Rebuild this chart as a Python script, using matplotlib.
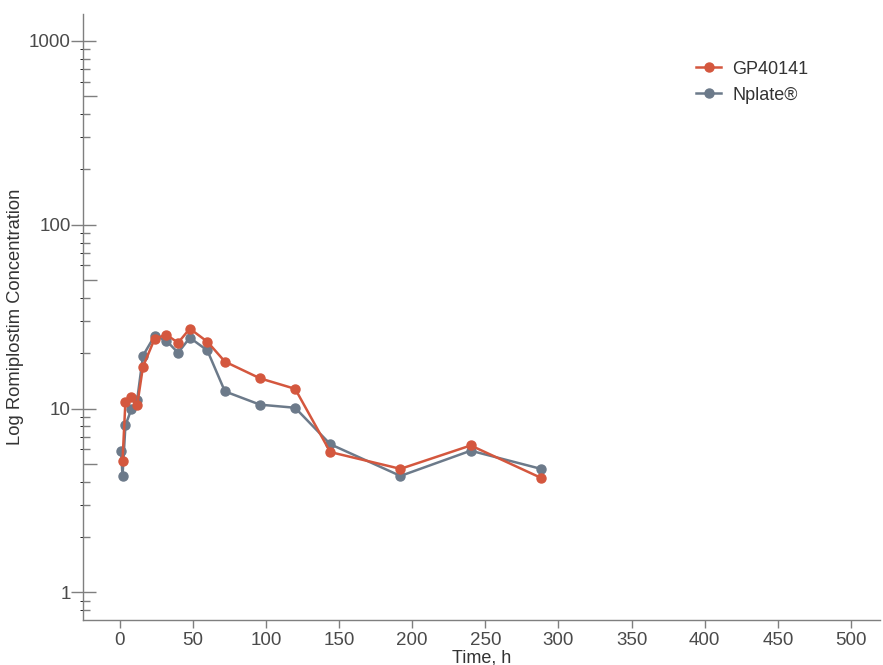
import numpy as np
import matplotlib
matplotlib.use("Agg")
import matplotlib.pyplot as plt
from matplotlib.ticker import LogLocator, NullFormatter, FixedLocator

# datos
t_gp = [2, 4, 8, 12, 16, 24, 32, 40, 48, 60, 72, 96, 120, 144, 192, 240, 288]
c_gp = [5.2, 10.9, 11.6, 10.4, 16.9, 24.0, 25.2, 22.8, 27.2, 23.1, 18.0, 14.6, 12.8, 5.8, 4.7, 6.3, 4.2]

t_np = [1, 2, 4, 8, 12, 16, 24, 32, 40, 48, 60, 72, 96, 120, 144, 192, 240, 288]
c_np = [5.9, 4.3, 8.1, 9.9, 11.1, 19.4, 24.9, 23.4, 20.1, 24.3, 20.7, 12.4, 10.5, 10.1, 6.4, 4.3, 5.9, 4.7]

x_ticks = [0, 50, 100, 150, 200, 250, 300, 350, 400, 450, 500]

rojo = "#D4573E"
gris = "#6C7A8A"
eje = "#7f7f7f"

plt.rcParams["font.family"] = ["Liberation Sans", "DejaVu Sans"]

fig = plt.figure(figsize=(8.83, 6.65), dpi=100)
ax = fig.add_axes([0.094, 0.068, 0.903, 0.911])

ax.plot(t_gp, c_gp, color=rojo, marker="o", ms=6.5, lw=1.8, label="GP40141", zorder=3)
ax.plot(t_np, c_np, color=gris, marker="o", ms=6.5, lw=1.8, label="Nplate®", zorder=2)

ax.set_yscale("log")
ax.set_ylim(0.71, 1400)
ax.set_xlim(-25, 520)
ax.set_xticks(x_ticks)

ax.yaxis.set_major_locator(FixedLocator([1, 10, 100, 1000]))
ax.set_yticklabels(["1", "10", "100", "1000"])
ax.yaxis.set_minor_locator(LogLocator(base=10, subs=[2, 3, 4, 6, 7, 8, 9], numticks=20))
ax.yaxis.set_minor_formatter(NullFormatter())

# tick medio en los 5
ax5 = ax.secondary_yaxis("left")
ax5.set_yticks([5e-1, 5, 50, 500])
ax5.set_yticklabels([])
ax5.tick_params(axis="y", direction="in", length=10, width=1, color=eje)
ax5.spines["left"].set_visible(False)

for s in ["top", "right"]:
    ax.spines[s].set_visible(False)
for s in ["left", "bottom"]:
    ax.spines[s].set_color(eje)
    ax.spines[s].set_linewidth(1)

ax.tick_params(axis="y", which="major", direction="inout", length=18, width=1, color=eje,
               labelsize=13.5, labelcolor="#4a4a4a", pad=0)
ax.tick_params(axis="y", which="minor", direction="in", length=5, width=1, color=eje)
ax.tick_params(axis="x", which="major", direction="out", length=6, width=1, color=eje,
               labelsize=13.5, labelcolor="#4a4a4a", pad=3)

ax.set_xlabel("Time, h", fontsize=13, color="#333333", labelpad=0)
ax.set_ylabel("Log Romiplostim Concentration", fontsize=13.2, color="#333333", labelpad=3)

ax.legend(loc="upper right", bbox_to_anchor=(0.93, 0.95), frameon=False, fontsize=13,
          handlelength=1.4, labelspacing=0.5, handletextpad=0.6, labelcolor="#333333")

fig.savefig("out.png", dpi=100)
